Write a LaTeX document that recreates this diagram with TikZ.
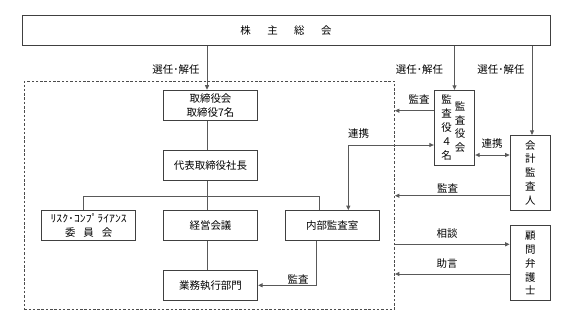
\documentclass[tikz,border=0pt]{standalone}
\usepackage{fontspec}
\setmainfont{Noto Sans CJK JP}
\usetikzlibrary{arrows.meta}
\begin{document}
\begin{tikzpicture}[x=1bp,y=-1bp,
  >={Triangle[length=4.5bp,width=4bp]},
  box/.style={draw=black!75, line width=0.9bp, minimum width=94.4bp, minimum height=30.3bp, inner sep=0pt, font=\fontsize{10.5}{14.4}\selectfont, align=center},
  vbox/.style={draw=black!75, line width=0.9bp, minimum width=40.4bp, minimum height=75bp, inner sep=0pt, font=\fontsize{10.5}{13.9}\selectfont, align=center},
  vtext/.style={inner sep=0pt, font=\fontsize{10.5}{13.9}\selectfont, align=center},
  conn/.style={draw=black!65, line width=0.9bp},
  lbl/.style={font=\fontsize{10.5}{12}\selectfont, inner sep=0pt}]
\useasboundingbox (0,0) rectangle (574,316);
% group frame
\node[draw=black!70, dash pattern=on 2.5bp off 1.8bp, line width=0.8bp, minimum width=370.2bp, minimum height=228.2bp, inner sep=0pt] (grp) at (209.4,195.4) {};
% boxes
\node[box, minimum width=528bp, minimum height=29.8bp] (top) at (286,30.5) {株\hspace{16.5bp}主\hspace{16.5bp}総\hspace{16.5bp}会};
\node[box] (tori) at (210.5,105.3) {取締役会\\取締役7名};
\node[box] (daihyo) at (210.5,165.5) {代表取締役社長};
\node[box] (risk) at (88.7,225.5) {\scalebox{1.12}[1]{ﾘｽｸ･ｺﾝﾌﾟﾗｲｱﾝｽ}\\委\hspace{8bp}員\hspace{8bp}会};
\node[box] (keiei) at (210.5,225.5) {経営会議};
\node[box] (naibu) at (332.2,225.7) {内部監査室};
\node[box] (gyomu) at (210.5,285.2) {業務執行部門};
\node[vbox, minimum height=75.4bp] (kansayaku) at (454.5,128) {};
\node[vtext] (kc1) at (460.2,127) {監\\査\\役\\会};
\node[vtext] (kc2) at (446.7,127.6) {監\\査\\役\\４\\名};
\node[vbox, minimum height=74.7bp] (kaikei) at (530.3,172.7) {会\\計\\監\\査\\人};
\node[vbox] (komon) at (530.3,263.2) {顧\\問\\弁\\護\\士};
% connectors
\coordinate (vx) at (207,0);
\draw[conn,->] (top.south -| vx) -- (tori.north -| vx);
\draw[conn] (tori.south -| vx) -- (daihyo.north -| vx);
\draw[conn] (daihyo.south -| vx) -- (keiei.north -| vx);
\draw[conn] (keiei.south -| vx) -- (gyomu.north -| vx);
\coordinate (hl) at (83.3,196.2);
\coordinate (hr) at (319.3,196.2);
\draw[conn] (risk.north -| hl) -- (hl) -- (hr) -- (naibu.north -| hr);
\coordinate (nb) at (316.7,285.3);
\draw[conn,->] (naibu.south -| nb) -- (nb) -- (gyomu.east |- nb);
\coordinate (lk) at (348.3,145);
\draw[conn,<->] (naibu.north -| lk) -- (lk) -- (kansayaku.west |- lk);
\draw[conn,->] (top.south -| kansayaku) -- (kansayaku.north);
\coordinate (kx) at (532,0);
\draw[conn,->] (top.south -| kx) -- (kaikei.north -| kx);
\coordinate (k1) at (0,110.7);
\draw[conn,->] (kansayaku.west |- k1) -- (grp.east |- k1);
\coordinate (k2) at (0,155);
\draw[conn,<->] (kansayaku.east |- k2) -- (kaikei.west |- k2);
\coordinate (k3) at (0,195.7);
\draw[conn,->] (kaikei.west |- k3) -- (grp.east |- k3);
\coordinate (k4) at (0,244.3);
\draw[conn,->] (grp.east |- k4) -- (komon.west |- k4);
\coordinate (k5) at (0,274);
\draw[conn,->] (komon.west |- k5) -- (grp.east |- k5);
% labels
\node[lbl] (l1) at (176,70) {選任･解任};
\node[lbl] (l2) at (419.5,70) {選任･解任};
\node[lbl] (l3) at (501,70) {選任･解任};
\node[lbl] (l4) at (419,99.3) {監査};
\node[lbl] (l5) at (358.7,134) {連携};
\node[lbl] (l6) at (492,144) {連携};
\node[lbl] (l7) at (447.5,188) {監査};
\node[lbl] (l8) at (447,234) {相談};
\node[lbl] (l9) at (447,264) {助言};
\node[lbl] (l10) at (298,279.3) {監査};
\end{tikzpicture}
\end{document}
